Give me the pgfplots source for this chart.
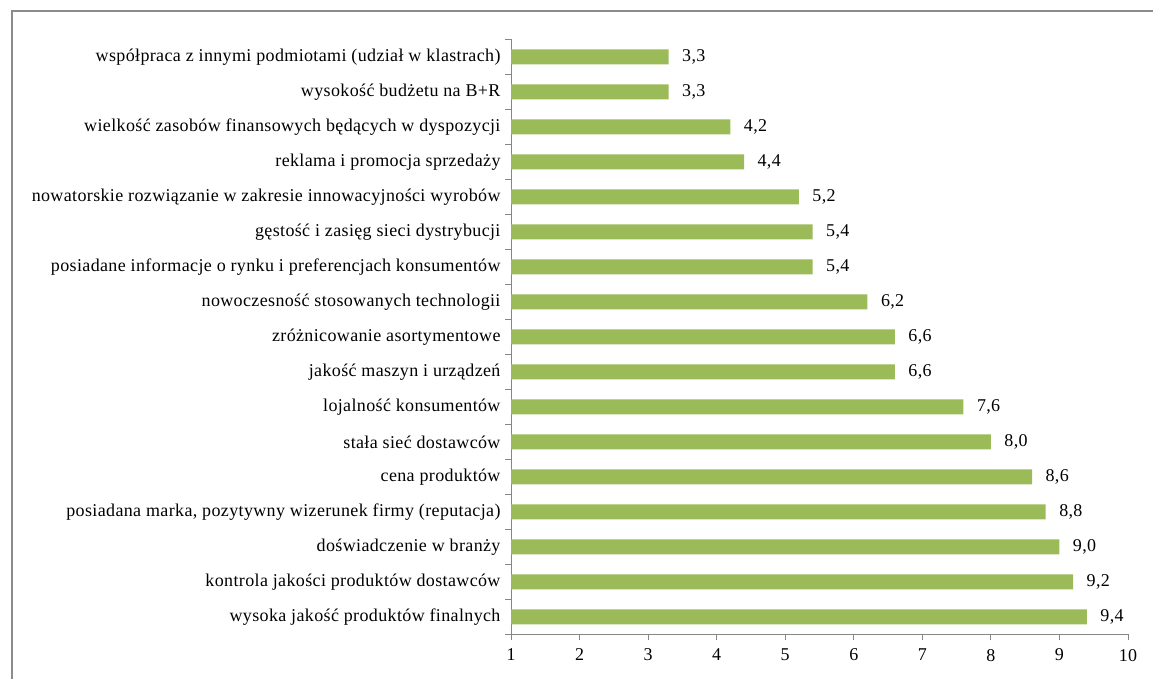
\documentclass[border=0pt]{standalone}
\usepackage{pgfplots}
\pgfplotsset{compat=1.18}
\usepackage{fontspec}
\setmainfont{Liberation Serif}[LetterSpace=2]
\definecolor{bargreen}{HTML}{9BBB59}
\definecolor{framegray}{HTML}{8C8C8C}
\definecolor{axgray}{HTML}{868686}
\begin{document}
\begin{tikzpicture}[font=\fontsize{18}{21}\selectfont]
\path[use as bounding box] (0,0) rectangle (1153pt,679pt);
\draw[framegray, line width=2pt] (11.5pt,0) -- (11.5pt,667.5pt) -- (1153pt,667.5pt);
\begin{axis}[
  at={(511pt,44.5pt)}, anchor=south west,
  scale only axis, width=617pt, height=595pt,
  xbar, bar width=15pt,
  xmin=1, xmax=10, ymin=-0.5, ymax=16.5,
  xtick={1,...,10},
  ytick={0,...,16},
  minor ytick={-0.5,0.5,...,16.5},
  yticklabels={
    wysoka jakość produktów finalnych,
    kontrola jakości produktów dostawców,
    doświadczenie w branży,
    {posiadana marka, pozytywny wizerunek firmy (reputacja)},
    cena produktów,
    stała sieć dostawców,
    lojalność konsumentów,
    jakość maszyn i urządzeń,
    zróżnicowanie asortymentowe,
    nowoczesność stosowanych technologii,
    posiadane informacje o rynku i preferencjach konsumentów,
    gęstość i zasięg sieci dystrybucji,
    nowatorskie rozwiązanie w zakresie innowacyjności wyrobów,
    reklama i promocja sprzedaży,
    wielkość zasobów finansowych będących w dyspozycji,
    wysokość budżetu na B+R,
    współpraca z innymi podmiotami (udział w klastrach)},
  axis x line*=bottom, axis y line*=left,
  axis line style={axgray, line width=1pt},
  tick align=outside,
  major tick length=6pt, minor tick length=6pt,
  every major y tick/.style={draw=none},
  tick style={axgray, line width=1pt},
  /pgf/number format/assume math mode=true,
  xticklabel style={yshift=-5pt},
  yticklabel style={xshift=-1pt},
  nodes near coords,
  nodes near coords style={anchor=west, xshift=10pt, text=black,
    /pgf/number format/.cd, fixed, fixed zerofill, precision=1, use comma, assume math mode=true},
  clip=true,
]
\addplot[fill=bargreen, draw=none] coordinates {
(9.4,0) (9.2,1) (9.0,2) (8.8,3) (8.6,4) (8.0,5) (7.6,6) (6.6,7) (6.6,8)
(6.2,9) (5.4,10) (5.4,11) (5.2,12) (4.4,13) (4.2,14) (3.3,15) (3.3,16)};
\end{axis}
\end{tikzpicture}
\end{document}
